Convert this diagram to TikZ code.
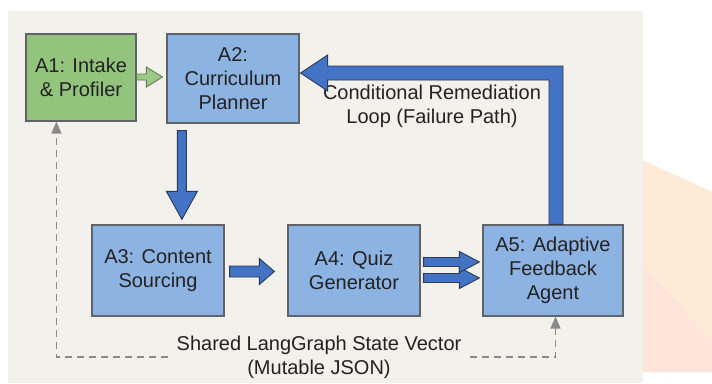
\documentclass[tikz,border=0pt]{standalone}
\usepackage{fontspec}
\setmainfont{Liberation Sans}
\usetikzlibrary{calc,arrows.meta}
\definecolor{panel}{HTML}{F2F1EC}
\definecolor{boxblue}{HTML}{8DB3E2}
\definecolor{boxgreen}{HTML}{93C47D}
\definecolor{boxline}{HTML}{60646A}
\definecolor{arrblue}{HTML}{4472C4}
\definecolor{arrline}{HTML}{2B3A55}
\definecolor{arrgreen}{HTML}{9DCB87}
\definecolor{arrgreenline}{HTML}{5E7F50}
\definecolor{stategray}{HTML}{8A8A8A}
\definecolor{txt}{HTML}{222222}
\definecolor{peach}{HTML}{FDEBD8}
\definecolor{peachpink}{HTML}{FDE5DC}
\newcommand\hblock[6]{\draw[#1] let \p1=(#2), \p2=(#3) in (\x1,\y1+#4) -- (\x2-#6,\y1+#4) -- (\x2-#6,\y1+#5) -- (\x2,\y1) -- (\x2-#6,\y1-#5) -- (\x2-#6,\y1-#4) -- (\x1,\y1-#4) -- cycle;}
\newcommand\vblock[6]{\draw[#1] let \p1=(#2), \p2=(#3) in (\x1+#4,\y1) -- (\x1+#4,\y2+#6) -- (\x1+#5,\y2+#6) -- (\x1,\y2) -- (\x1-#5,\y2+#6) -- (\x1-#4,\y2+#6) -- (\x1-#4,\y1) -- cycle;}
\newcommand\lblock[6]{\draw[#1] let \p1=(#2), \p2=(#3) in (\x1+#4,\y1) -- (\x1+#4,\y2+#4) -- (\x2+#6,\y2+#4) -- (\x2+#6,\y2+#5) -- (\x2,\y2) -- (\x2+#6,\y2-#5) -- (\x2+#6,\y2-#4) -- (\x1-#4,\y2-#4) -- (\x1-#4,\y1) -- cycle;}
\tikzset{
  agent/.style={draw=boxline, line width=1.2pt, fill=boxblue, align=center, inner sep=0pt,
    text=txt, font=\fontsize{20}{24}\selectfont},
  greenagent/.style={agent, fill=boxgreen},
  flowarrow/.style={fill=arrblue, draw=arrline, line width=0.9pt, line join=miter},
  greenarrow/.style={fill=arrgreen, draw=arrgreenline, line width=0.9pt},
  stateline/.style={draw=stategray, line width=1.5pt, dash pattern=on 7pt off 5pt,
    -{Triangle[width=10pt,length=12pt]}},
  note/.style={align=center, text=txt, font=\fontsize{20}{24}\selectfont}
}
\begin{document}
\begin{tikzpicture}[x=1pt,y=-1pt]
\useasboundingbox (0,0) rectangle (712,383);
\fill[white] (0,0) rectangle (712,383);
\fill[panel] (8,11) rectangle (643,383);
\fill[peach] (643,160) -- (712,192) -- (712,372) -- (643,372) -- cycle;
\fill[peachpink] (643,265) -- (712,340) -- (712,372) -- (643,372) -- cycle;

\node[greenagent, minimum width=110pt, minimum height=87pt] (A1) at (81,77.5) {A1: Intake\\\& Profiler};
\node[agent, minimum width=132pt, minimum height=89pt] (A2) at (233,78.5) {A2:\\Curriculum\\Planner};
\node[agent, minimum width=132pt, minimum height=91pt] (A3) at (158,270.5) {A3: Content\\Sourcing};
\node[agent, minimum width=132pt, minimum height=91pt] (A4) at (354,270.5) {A4: Quiz\\Generator};
\node[agent, minimum width=140pt, minimum height=91pt] (A5) at (553,270.5) {A5: Adaptive\\Feedback\\Agent};

\node[note] (loop) at (432,106) {Conditional Remediation\\Loop (Failure Path)};
\node[note, inner xsep=8pt] (state) at (319,357) {Shared LangGraph State Vector\\(Mutable JSON)};

% A1 -> A2
\hblock{greenarrow}{$(A1.east)+(0,-0.5)$}{$(A2.west)+(-4,0)$}{3pt}{10pt}{16pt}
% A2 -> A3
\vblock{flowarrow}{$(A2.south west)+(15.5,7)$}{$(A3.north)+(0,-5)$}{4.5pt}{15.5pt}{28pt}
% A3 -> A4
\hblock{flowarrow}{$(A3.east)+(5,1)$}{$(A4.west)+(-13,0)$}{5.5pt}{13pt}{15pt}
% A4 -> A5 (double)
\hblock{flowarrow}{$(A4.east)+(3,7.5)$}{$(A5.west)+(-3,0)$}{4.5pt}{10.5pt}{20pt}
\hblock{flowarrow}{$(A4.east)+(3,-8.5)$}{$(A5.west)+(-3,0)$}{4.5pt}{10.5pt}{20pt}
% A5 -> A2 loop
\lblock{flowarrow}{$(A5.north)+(3,0)$}{$(A2.east)+(1,-5.5)$}{7pt}{18pt}{27pt}

% shared state
\draw[stateline] (state.west) -| ($(A1.south west)+(31,0)$);
\draw[stateline] (state.east) -| ($(A5.south)+(2.5,0)$);
\end{tikzpicture}
\end{document}
